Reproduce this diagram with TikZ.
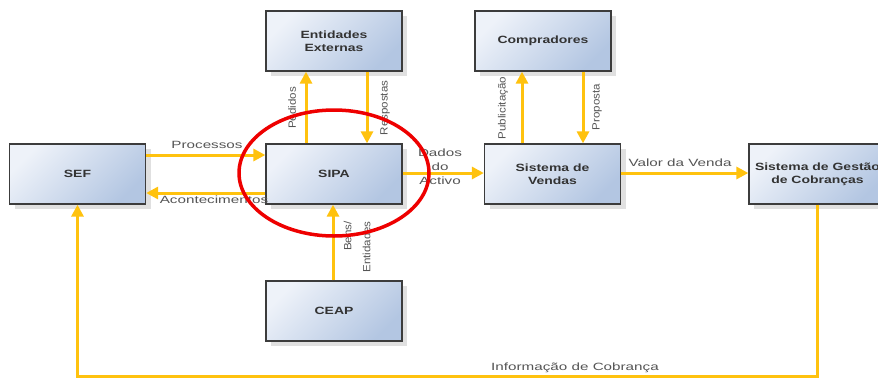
\documentclass[tikz,border=0pt]{standalone}
\usepackage{fontspec}
\setmainfont{Liberation Sans}
\newfontfamily\boxfont[FakeStretch=1.33]{Liberation Sans}
\newfontfamily\lblfont[FakeStretch=1.45]{Liberation Sans}
\newfontfamily\rotfont[FakeStretch=1.1]{Liberation Sans}
\usetikzlibrary{arrows.meta,shadows}
\definecolor{boxlight}{HTML}{EEF2F9}
\definecolor{boxdark}{HTML}{B3C6E2}
\definecolor{boxline}{HTML}{3C3C3C}
\definecolor{flow}{HTML}{FFC20E}
\definecolor{lblgray}{HTML}{555555}
\definecolor{ring}{HTML}{EE0000}
\begin{document}
\begin{tikzpicture}[x=1pt,y=-1pt,
  sysbox/.style={draw=boxline, line width=1.3pt, minimum width=136pt, minimum height=60pt,
    inner sep=0pt, align=center, font=\boxfont\bfseries\fontsize{10.5}{13}\selectfont,
    text=black!80, top color=boxlight, bottom color=boxdark, shading angle=45,
    drop shadow={shadow xshift=5pt, shadow yshift=-5pt, fill=black!20, opacity=0.6}},
  flowarrow/.style={draw=flow, line width=3pt, -{Triangle[length=12pt,width=12pt]}},
  flowline/.style={draw=flow, line width=3pt},
  lbl/.style={font=\lblfont\fontsize{10.5}{14}\selectfont, text=lblgray, inner sep=0pt},
  rlbl/.style={font=\rotfont\fontsize{10.5}{19}\selectfont, text=lblgray, inner sep=0pt, rotate=90},
]
\fill[white] (0,0) rectangle (878,378);
\useasboundingbox (0,0) rectangle (878,378);
\clip (0,0) rectangle (878,378);

\node[sysbox] (ent) at (334,41) {Entidades\\Externas};
\node[sysbox] (sef) at (77.5,174) {SEF};
\node[sysbox] (sipa) at (334,174) {SIPA};
\node[sysbox] (ceap) at (334,311) {CEAP};
\node[sysbox] (comp) at (543,41) {Compradores};
\node[sysbox] (vend) at (552.5,174) {Sistema de\\Vendas};
\node[sysbox, minimum width=137pt] (gest) at (817.5,174) {Sistema de Gestão\\de Cobranças};

\draw[flowarrow] (sef.east |- 0,155) -- (sipa.west |- 0,155);
\draw[flowarrow] (sipa.west |- 0,193) -- (sef.east |- 0,193);
\draw[flowarrow] (sipa.north -| 306,0) -- (ent.south -| 306,0);
\draw[flowarrow] (ent.south -| 367,0) -- (sipa.north -| 367,0);
\draw[flowarrow] (sipa.east |- 0,173) -- (vend.west |- 0,173);
\draw[flowarrow] (vend.north -| 522,0) -- (comp.south -| 522,0);
\draw[flowarrow] (comp.south -| 583,0) -- (vend.north -| 583,0);
\draw[flowarrow] (vend.east |- 0,173) -- (gest.west |- 0,173);
\draw[flowarrow] (ceap.north -| 333,0) -- (sipa.south -| 333,0);
\draw[flowarrow] (gest.south) -- (gest.south |- 0,376) -| (sef.south);

\node[lbl] (lproc) at (207,145) {Processos};
\node[lbl] (lacon) at (214,200) {Acontecimentos};
\node[rlbl] (lped) at (292,108) {Pedidos};
\node[rlbl] (lresp) at (385,108) {Respostas};
\node[lbl, align=center] (ldados) at (440,167) {Dados\\do\\Activo};
\node[rlbl] (lpub) at (503,108) {Publicitação};
\node[rlbl] (lprop) at (597,107) {Proposta};
\node[lbl] (lvalor) at (680,163) {Valor da Venda};
\node[rlbl, align=right] (lbens) at (357,247) {Bens/\\Entidades};
\node[lbl] (linfo) at (575,368) {Informação de Cobrança};

\draw[ring, line width=3.5pt] (334,173) ellipse [x radius=95pt, y radius=63pt];
\end{tikzpicture}
\end{document}
